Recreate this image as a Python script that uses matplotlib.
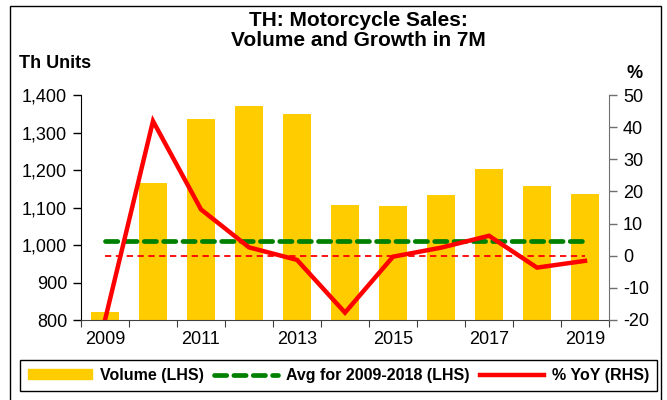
import matplotlib.pyplot as plt
import matplotlib.patches as mpatches
from matplotlib.lines import Line2D
import numpy as np

plt.rcParams['font.family'] = ['Liberation Sans', 'DejaVu Sans']

years = [2009, 2010, 2011, 2012, 2013, 2014, 2015, 2016, 2017, 2018, 2019]
volume = [822, 1166, 1336, 1371, 1349, 1107, 1104, 1133, 1203, 1157, 1136]
yoy = [-20, 41.9, 14.4, 2.6, -1.3, -17.7, -0.3, 2.5, 6.2, -3.7, -1.6]
avg_2009_2018 = 1011
year_labels = ["2009", "", "2011", "", "2013", "", "2015", "", "2017", "", "2019"]

bar_color = "#FFCC00"
green = "#008000"
red = "#FF0000"

fig = plt.figure(figsize = (6.67, 4.0), dpi = 100)
ax = fig.add_axes([81/667, 80/400, 528/667, 225/400])
ax2 = ax.twinx()

x = np.arange(len(years))
ax.bar(x, volume, width = 0.6, color = bar_color, zorder = 2)
ax.plot([x[0], x[-1]], [avg_2009_2018, avg_2009_2018], color = green, lw = 3.4,
        dashes = (2.6, 1.5), dash_capstyle = 'round', zorder = 3)
ax2.plot([x[0], x[-1]], [0, 0], color = red, lw = 1.3, dashes = (3.5, 2.5))
ax2.plot(x, yoy, color = red, lw = 3.2, solid_joinstyle = 'miter', clip_on = True)

ax.set_xlim(-0.5, len(years) - 0.5)
ax.set_ylim(800, 1400)
ax2.set_ylim(-20, 50)
ax.set_yticks(range(800, 1401, 100))
ax.set_yticklabels(["{:,}".format(v) for v in range(800, 1401, 100)], fontsize = 13)
ax2.set_yticks(range(-20, 51, 10))
ax2.set_yticklabels([str(v) for v in range(-20, 51, 10)], fontsize = 13)

ax.set_xticks(np.arange(-0.5, len(years), 1.0))
ax.set_xticklabels([])
ax.set_xticks(x, minor = True)
ax.set_xticklabels(year_labels, minor = True, fontsize = 13)
ax.tick_params(axis = 'x', which = 'minor', length = 0, pad = 8)
ax.tick_params(axis = 'x', which = 'major', length = 5, color = "#404040")
ax.tick_params(axis = 'y', length = 6, width = 1, color = "black", pad = 4)
ax2.tick_params(axis = 'y', length = 6, width = 1, color = "#707070", pad = 4)

for a in (ax, ax2):
    a.spines['top'].set_visible(False)
ax.spines['right'].set_visible(False)
ax2.spines['left'].set_visible(False)
ax2.spines['bottom'].set_visible(False)
ax2.spines['right'].set_color("#707070")
ax.spines['bottom'].set_color("#404040")

fig.text(358/667, 1 - 11/400, "TH: Motorcycle Sales:\nVolume and Growth in 7M", ha = 'center', va = 'top',
         fontsize = 15, fontweight = 'bold', linespacing = 1.1)
fig.text(19/667, 1 - 63/400, "Th Units", ha = 'left', va = 'center', fontsize = 13, fontweight = 'bold')
fig.text(635/667, 1 - 74/400, "%", ha = 'center', va = 'center', fontsize = 13, fontweight = 'bold')

handles = [mpatches.Patch(color = bar_color),
           Line2D([], [], color = green, lw = 3.4, dashes = (2.6, 1.5), dash_capstyle = 'round'),
           Line2D([], [], color = red, lw = 3.2)]
labels = ["Volume (LHS)", "Avg for 2009-2018 (LHS)", "% YoY (RHS)"]
leg = fig.legend(handles, labels, loc = 'lower left', bbox_to_anchor = (20/667, 9/400, 637/667, 33/400),
                 mode = 'expand', ncol = 3, fancybox = False, edgecolor = 'black', framealpha = 1,
                 prop = {'weight': 'bold', 'size': 11.5}, handlelength = 4.0, handleheight = 0.6,
                 columnspacing = 0.6, handletextpad = 0.5, borderaxespad = 0, borderpad = 0.5)
leg.get_frame().set_linewidth(1.0)

fig.patches.append(mpatches.Rectangle((10/667, -0.01), 651/667, 1.01 - 6/400, transform = fig.transFigure,
                                      fill = False, edgecolor = 'black', lw = 1.0))

plt.savefig("out.png", format = "png", dpi = 100)
plt.close(fig)
